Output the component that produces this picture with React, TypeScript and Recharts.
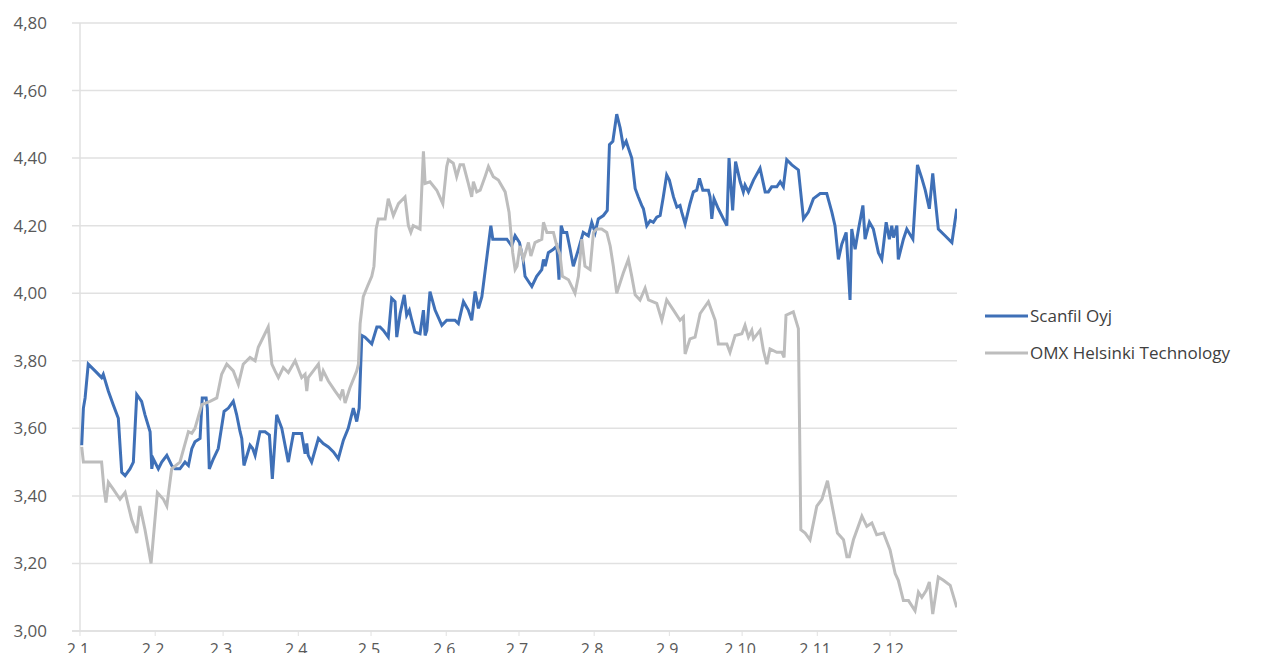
import React from 'react';
import { LineChart, Line, XAxis, YAxis, CartesianGrid, ReferenceLine } from 'recharts';

// day of year -> closing price
const scanfilSeries: [number, number][] = [
  [2.7, 3.55], [3.4, 3.66], [4.1, 3.69], [5.4, 3.79], [8.2, 3.77], [10.9, 3.75], [11.6, 3.76],
  [13.7, 3.71], [15.7, 3.67], [17.8, 3.63], [19.2, 3.47], [20.6, 3.46], [22.6, 3.48], [24.0, 3.5],
  [25.4, 3.7], [27.4, 3.68], [28.8, 3.64], [30.9, 3.59], [31.6, 3.48], [32.2, 3.51], [34.3, 3.48],
  [35.7, 3.5], [37.8, 3.52], [39.8, 3.49], [41.2, 3.48], [43.2, 3.48], [45.3, 3.5], [46.7, 3.49],
  [48.1, 3.54], [49.4, 3.56], [51.5, 3.57], [52.4, 3.69], [54.0, 3.69], [54.5, 3.66], [55.3, 3.48],
  [57.0, 3.51], [59.0, 3.54], [61.4, 3.65], [63.2, 3.66], [65.2, 3.68], [66.6, 3.64], [68.0, 3.59],
  [68.7, 3.57], [69.6, 3.49], [72.1, 3.55], [73.2, 3.54], [74.2, 3.52], [76.2, 3.59], [78.3, 3.59],
  [80.1, 3.58], [81.3, 3.45], [83.1, 3.64], [85.2, 3.6], [87.9, 3.5], [88.6, 3.53], [90.0, 3.585],
  [93.4, 3.585], [94.8, 3.525], [95.5, 3.555], [96.1, 3.52], [97.5, 3.5], [100.3, 3.57], [102.3, 3.555],
  [104.4, 3.545], [106.5, 3.53], [108.5, 3.51], [110.6, 3.565], [112.6, 3.6], [114.7, 3.66], [116.1, 3.62],
  [117.1, 3.66], [118.2, 3.875], [119.5, 3.87], [122.3, 3.85], [124.4, 3.9], [125.7, 3.9], [127.1, 3.89],
  [129.1, 3.87], [130.5, 3.985], [131.9, 3.975], [132.6, 3.87], [134.0, 3.94], [135.7, 3.995], [136.7, 3.935],
  [137.8, 3.95], [138.8, 3.92], [140.1, 3.885], [142.2, 3.88], [143.6, 3.95], [144.3, 3.875], [145.0, 3.89],
  [146.3, 4.005], [148.4, 3.95], [151.2, 3.905], [153.2, 3.92], [156.6, 3.92], [158.0, 3.91], [160.1, 3.975],
  [162.1, 3.95], [163.5, 3.92], [164.9, 4.005], [166.3, 3.955], [167.7, 3.99], [171.4, 4.2], [172.2, 4.16],
  [175.2, 4.16], [178.0, 4.16], [180.0, 4.14], [181.4, 4.17], [183.2, 4.15], [184.7, 4.1], [185.5, 4.05],
  [188.3, 4.02], [190.3, 4.05], [192.4, 4.07], [193.1, 4.1], [193.8, 4.08], [195.1, 4.12], [197.2, 4.13],
  [198.6, 4.14], [199.5, 4.04], [200.4, 4.2], [201.3, 4.18], [202.7, 4.18], [204.1, 4.13], [205.4, 4.08],
  [207.5, 4.13], [209.5, 4.18], [211.6, 4.17], [213.0, 4.21], [214.4, 4.18], [215.7, 4.22], [217.8, 4.23],
  [219.4, 4.245], [220.3, 4.44], [221.7, 4.45], [223.3, 4.53], [224.7, 4.49], [226.0, 4.435], [227.2, 4.45],
  [228.1, 4.43], [229.5, 4.4], [230.9, 4.31], [232.2, 4.285], [233.6, 4.26], [234.3, 4.25], [235.7, 4.2],
  [237.1, 4.215], [238.4, 4.21], [239.8, 4.225], [241.2, 4.23], [242.5, 4.285], [243.9, 4.35], [245.0, 4.335],
  [246.7, 4.285], [248.1, 4.255], [249.4, 4.26], [250.1, 4.24], [251.5, 4.205], [253.5, 4.265], [254.9, 4.3],
  [256.3, 4.305], [257.4, 4.34], [258.8, 4.305], [261.1, 4.305], [261.8, 4.285], [262.5, 4.22], [263.4, 4.28],
  [265.2, 4.25], [267.3, 4.22], [268.7, 4.2], [269.6, 4.4], [271.1, 4.245], [272.3, 4.39], [274.2, 4.33],
  [275.5, 4.3], [276.2, 4.32], [277.6, 4.3], [279.7, 4.335], [282.4, 4.37], [284.5, 4.3], [285.8, 4.3],
  [287.2, 4.315], [289.3, 4.315], [290.7, 4.33], [292.0, 4.315], [293.4, 4.395], [295.5, 4.38], [298.2, 4.365],
  [300.3, 4.22], [302.3, 4.24], [304.4, 4.28], [307.2, 4.295], [309.9, 4.295], [312.0, 4.24], [313.3, 4.2],
  [314.7, 4.1], [316.1, 4.145], [317.9, 4.18], [319.5, 3.98], [320.2, 4.19], [321.6, 4.13], [323.0, 4.19],
  [324.8, 4.26], [325.7, 4.16], [327.5, 4.21], [329.1, 4.19], [331.2, 4.12], [332.6, 4.1], [334.4, 4.21],
  [335.7, 4.16], [336.7, 4.2], [337.4, 4.165], [338.8, 4.2], [339.4, 4.1], [341.5, 4.16], [342.9, 4.19],
  [345.4, 4.16], [347.3, 4.38], [349.1, 4.34], [350.5, 4.305], [352.2, 4.25], [353.6, 4.355], [354.6, 4.28],
  [355.9, 4.19], [358.7, 4.17], [361.5, 4.15], [363.5, 4.25],
];

const omxSeries: [number, number][] = [
  [2.7, 3.545], [3.4, 3.5], [10.9, 3.5], [11.9, 3.42], [12.7, 3.38], [13.7, 3.44], [15.7, 3.42],
  [18.5, 3.39], [20.6, 3.41], [23.3, 3.33], [25.4, 3.29], [26.7, 3.37], [28.8, 3.3], [31.3, 3.2],
  [33.9, 3.41], [36.4, 3.39], [37.8, 3.37], [39.8, 3.48], [43.2, 3.5], [46.7, 3.59], [48.1, 3.585],
  [49.4, 3.6], [52.2, 3.67], [55.6, 3.68], [58.4, 3.69], [60.4, 3.76], [62.5, 3.79], [65.2, 3.77],
  [67.3, 3.73], [69.3, 3.79], [72.1, 3.81], [74.2, 3.8], [75.5, 3.84], [79.6, 3.9], [81.1, 3.79],
  [82.4, 3.77], [83.8, 3.75], [85.8, 3.78], [87.9, 3.765], [90.7, 3.8], [93.4, 3.75], [94.8, 3.76],
  [95.5, 3.71], [96.1, 3.75], [98.2, 3.77], [100.3, 3.79], [101.3, 3.74], [102.3, 3.77], [104.4, 3.74],
  [107.2, 3.71], [109.2, 3.69], [110.3, 3.715], [111.3, 3.675], [113.3, 3.72], [116.1, 3.77], [116.8, 3.79],
  [117.5, 3.91], [118.8, 3.99], [120.5, 4.02], [122.3, 4.05], [123.2, 4.08], [124.1, 4.19], [125.0, 4.22],
  [127.8, 4.22], [129.1, 4.28], [131.2, 4.23], [133.3, 4.265], [136.0, 4.285], [137.4, 4.2], [138.4, 4.18],
  [139.4, 4.2], [142.2, 4.19], [143.6, 4.42], [144.3, 4.325], [146.3, 4.33], [149.1, 4.305], [151.6, 4.265],
  [153.2, 4.375], [153.9, 4.395], [155.9, 4.385], [157.3, 4.345], [158.7, 4.38], [160.1, 4.38], [162.1, 4.325],
  [163.5, 4.285], [164.2, 4.33], [165.6, 4.3], [167.0, 4.305], [169.0, 4.345], [170.4, 4.375], [172.4, 4.345],
  [174.5, 4.335], [177.3, 4.3], [178.9, 4.24], [180.4, 4.12], [181.4, 4.07], [182.2, 4.08], [183.4, 4.14],
  [184.8, 4.1], [186.9, 4.15], [187.9, 4.11], [189.6, 4.15], [192.4, 4.16], [193.1, 4.21], [194.5, 4.18],
  [197.2, 4.18], [198.6, 4.14], [199.9, 4.115], [200.9, 4.05], [203.4, 4.04], [206.1, 4.0], [207.5, 4.05],
  [208.9, 4.16], [210.2, 4.08], [212.3, 4.07], [213.7, 4.18], [215.1, 4.19], [217.1, 4.19], [219.2, 4.18],
  [220.6, 4.14], [221.9, 4.08], [223.3, 4.0], [226.0, 4.06], [228.1, 4.1], [229.5, 4.05], [230.9, 3.995],
  [232.9, 3.98], [235.0, 4.015], [236.4, 3.98], [239.8, 3.97], [241.9, 3.92], [243.9, 3.98], [246.7, 3.95],
  [249.4, 3.92], [250.8, 3.93], [251.5, 3.82], [253.5, 3.865], [255.6, 3.87], [257.7, 3.94], [261.1, 3.975],
  [263.9, 3.92], [265.2, 3.85], [268.7, 3.85], [270.0, 3.825], [272.1, 3.875], [274.9, 3.88], [276.2, 3.905],
  [277.6, 3.87], [279.0, 3.89], [279.7, 3.865], [282.4, 3.89], [283.8, 3.83], [285.2, 3.79], [286.5, 3.835],
  [289.3, 3.825], [291.4, 3.825], [292.3, 3.81], [293.1, 3.935], [296.1, 3.945], [298.2, 3.895], [299.2, 3.3],
  [301.0, 3.29], [303.0, 3.27], [305.8, 3.37], [307.9, 3.39], [310.2, 3.445], [311.6, 3.39], [314.3, 3.29],
  [316.8, 3.27], [318.2, 3.22], [319.2, 3.22], [320.9, 3.27], [324.4, 3.34], [326.4, 3.31], [328.5, 3.32],
  [330.5, 3.285], [333.3, 3.29], [336.0, 3.24], [338.1, 3.17], [339.4, 3.15], [341.5, 3.09], [343.6, 3.09],
  [346.3, 3.06], [347.7, 3.115], [349.1, 3.1], [350.9, 3.12], [352.2, 3.145], [353.6, 3.05], [355.9, 3.16],
  [358.0, 3.15], [360.8, 3.135], [363.5, 3.07],
];

const monthTicks = [2, 33, 61, 92, 122, 153, 183, 214, 245, 275, 306, 336];
const monthLabels = ['2.1.', '2.2.', '2.3.', '2.4.', '2.5.', '2.6.', '2.7.', '2.8.', '2.9.', '2.10.', '2.11.', '2.12.'];
const priceTicks = [3.0, 3.2, 3.4, 3.6, 3.8, 4.0, 4.2, 4.4, 4.6, 4.8];
const seriesNames = ['Scanfil Oyj', 'OMX Helsinki Technology'];

const scanfilData = scanfilSeries.map(([day, value]) => ({ day, value }));
const omxData = omxSeries.map(([day, value]) => ({ day, value }));

const FONT = '"Open Sans", sans-serif';
const BLUE = '#3f70b7';
const GRAY = '#bdbdbd';
const GRID = '#e1e1e1';

const XTick = (props: any) => {
  const { x, payload } = props;
  const i = monthTicks.indexOf(payload.value);
  return (
    <text x={x} y={655} textAnchor="middle" fill="#595959" fontSize={16} fontFamily={FONT}>
      {monthLabels[i]}
    </text>
  );
};

const YTick = (props: any) => {
  const { y, payload } = props;
  return (
    <text x={47} y={y + 6} textAnchor="end" fill="#595959" fontSize={17} fontFamily={FONT}>
      {payload.value.toFixed(2).replace('.', ',')}
    </text>
  );
};

// legend drawn beside the plot so it doesn't shrink the plot area
const LegendBox = () => {
  const colors = [BLUE, GRAY];
  const rows = [16, 53];
  return (
    <svg width={290} height={70} style={{ position: 'absolute', left: 985, top: 300 }}>
      {seriesNames.map((name, i) => (
        <g key={name}>
          <line x1={0} x2={43} y1={rows[i]} y2={rows[i]} stroke={colors[i]} strokeWidth={3} />
          <text x={45} y={rows[i] + 6} fill="#404040" fontSize={17} fontFamily={FONT}>
            {name}
          </text>
        </g>
      ))}
    </svg>
  );
};

export default function App() {
  return (
    <div style={{ margin: -8, background: '#fff', width: 1261, height: 661, position: 'relative' }}>
      <LineChart width={1261} height={661} margin={{ top: 23, right: 304, bottom: 0, left: 0 }}>
        <CartesianGrid vertical={false} stroke={GRID} strokeWidth={1.5} />
        <XAxis
          type="number"
          dataKey="day"
          domain={[-1.3, 363.6]}
          ticks={monthTicks}
          allowDataOverflow
          height={30}
          axisLine={{ stroke: GRID, strokeWidth: 1.5 }}
          tickLine={{ stroke: GRID }}
          tickSize={5}
          tick={<XTick />}
        />
        <YAxis
          type="number"
          domain={[3, 4.8]}
          ticks={priceTicks}
          width={72}
          axisLine={false}
          tickLine={false}
          tick={<YTick />}
        />
        <ReferenceLine x={2} stroke={GRID} strokeWidth={1.5} />
        <Line
          data={scanfilData}
          dataKey="value"
          name={seriesNames[0]}
          type="linear"
          stroke={BLUE}
          strokeWidth={3}
          dot={false}
          isAnimationActive={false}
        />
        <Line
          data={omxData}
          dataKey="value"
          name={seriesNames[1]}
          type="linear"
          stroke={GRAY}
          strokeWidth={3}
          dot={false}
          isAnimationActive={false}
        />
      </LineChart>
      <LegendBox />
    </div>
  );
}
